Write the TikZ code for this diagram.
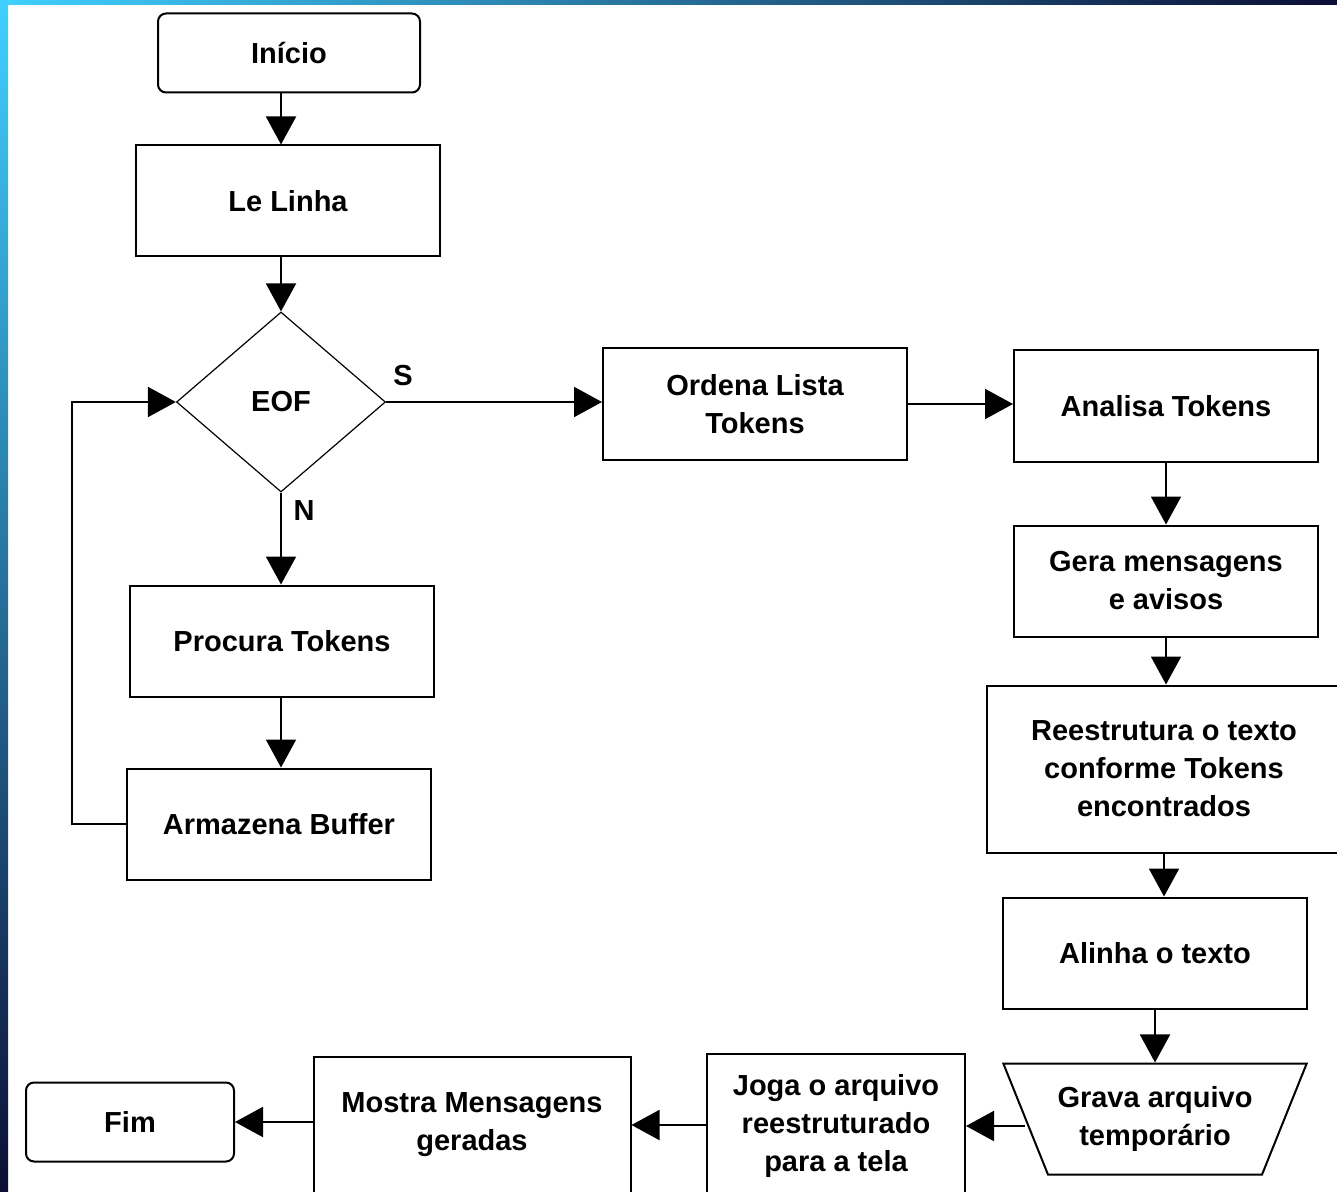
\documentclass[tikz,border=0pt]{standalone}
\usepackage{fontspec}
\setmainfont{Liberation Sans}
\usepackage[svgnames]{xcolor}
\usepackage{tikz}
\usetikzlibrary{shapes.geometric}
\usetikzlibrary{positioning,fit}
\usetikzlibrary{arrows.meta}
\definecolor{SlideCyan}{RGB}{64,208,255}
\definecolor{SlideBlue}{RGB}{44,96,235}
\definecolor{SlideNavy}{RGB}{12,14,52}
\tikzset{flow/.style={-{Triangle[length=14pt,width=15pt]},line width=1pt}}

\begin{document}
\begin{tikzpicture}[x=0.5pt,y=-0.5pt]
		\tikzstyle{Terminal}=[rectangle,rounded corners=4pt,draw=Black,line width=1pt,align=center,font=\bfseries\fontsize{14.5}{19}\selectfont,minimum height=39.5pt]
		\tikzstyle{Process}=[rectangle,draw=Black,line width=1pt,align=center,font=\bfseries\fontsize{14.5}{19}\selectfont,minimum width=152pt,minimum height=55.5pt]
		\tikzstyle{Decision}=[diamond,draw=Black,line width=0.6pt,inner sep=0pt,aspect=1.16,minimum width=104.5pt,minimum height=90pt,font=\bfseries\fontsize{14.5}{19}\selectfont]
		\tikzstyle{Storage}=[trapezium,shape border rotate=180,trapezium left angle=61,trapezium right angle=61,trapezium stretches=true,draw=Black,line width=1pt,align=center,font=\bfseries\fontsize{14.5}{19}\selectfont,minimum width=152pt,minimum height=55.5pt]
		\tikzstyle{Answer}=[font=\bfseries\fontsize{14.5}{19}\selectfont]

		% page and slide edges
		\fill[white] (0,0) rectangle (1337,1192);
		\useasboundingbox (0,0) rectangle (1337,1192);
		\clip (0,0) rectangle (1337,1192);
		\shade[left color=SlideCyan,middle color=SlideBlue,right color=SlideNavy] (0,0) rectangle (1337,5);
		\shade[top color=SlideCyan,middle color=SlideBlue,bottom color=SlideNavy] (0,0) rectangle (8,1192);

		% left column
		\node [Terminal,minimum width=131pt] (inicio) at (289,53) {Início};
		\node [Process] (lelinha) at (288,201) {Le Linha};
		\node [Decision] (eof) at (281,402) {EOF};
		\node [Process] (procura) at (282,641) {Procura Tokens};
		\node [Process] (armazena) at (279,824) {Armazena Buffer};
		\node [Answer] (sim) at (403,376) {S};
		\node [Answer] (nao) at (304,511) {N};

		% right column
		\node [Process] (ordena) at (755,404) {Ordena Lista\\Tokens};
		\node [Process] (analisa) at (1166,406) {Analisa Tokens};
		\node [Process] (gera) at (1166,581) {Gera mensagens\\e avisos};
		\node [Process,minimum width=177pt,minimum height=83.5pt] (reestrutura) at (1164,769) {Reestrutura o texto\\conforme Tokens\\encontrados};
		\node [Process] (alinha) at (1155,953) {Alinha o texto};
		\node [Storage] (grava) at (1155,1119) {Grava arquivo\\temporário};

		% bottom row
		\node [Process,minimum width=129pt,minimum height=72pt] (joga) at (836,1126) {Joga o arquivo\\reestruturado\\para a tela};
		\node [Process,minimum width=158.5pt,minimum height=68pt] (mostra) at (472,1125) {Mostra Mensagens\\geradas};
		\node [Terminal,minimum width=104pt] (fim) at (130,1122) {Fim};

		\draw [flow] (inicio.south -| eof.north) -- (lelinha.north -| eof.north);
		\draw [flow] (lelinha.south -| eof.north) -- (eof.north);
		\draw [flow] (eof.south) -- (procura.north -| eof.south);
		\draw [flow] (procura.south -| eof.south) -- (armazena.north -| eof.south);
		\draw [flow] (armazena.west) -- ++(-54,0) |- (eof.west);
		\draw [flow] (eof.east) -- (eof.east -| ordena.west);
		\draw [flow] (ordena.east) -- (ordena.east -| analisa.west);
		\draw [flow] (analisa) -- (gera);
		\draw [flow] (gera.south) -- (gera.south |- reestrutura.north);
		\draw [flow] (reestrutura.south) -- (reestrutura.south |- alinha.north);
		\draw [flow] (alinha) -- (grava);
		\draw [flow] (grava.west |- joga) -- (joga.east);
		\draw [flow] (joga.west |- mostra) -- (mostra.east);
		\draw [flow] (mostra.west |- fim) -- (fim.east);

\end{tikzpicture}
\end{document}
